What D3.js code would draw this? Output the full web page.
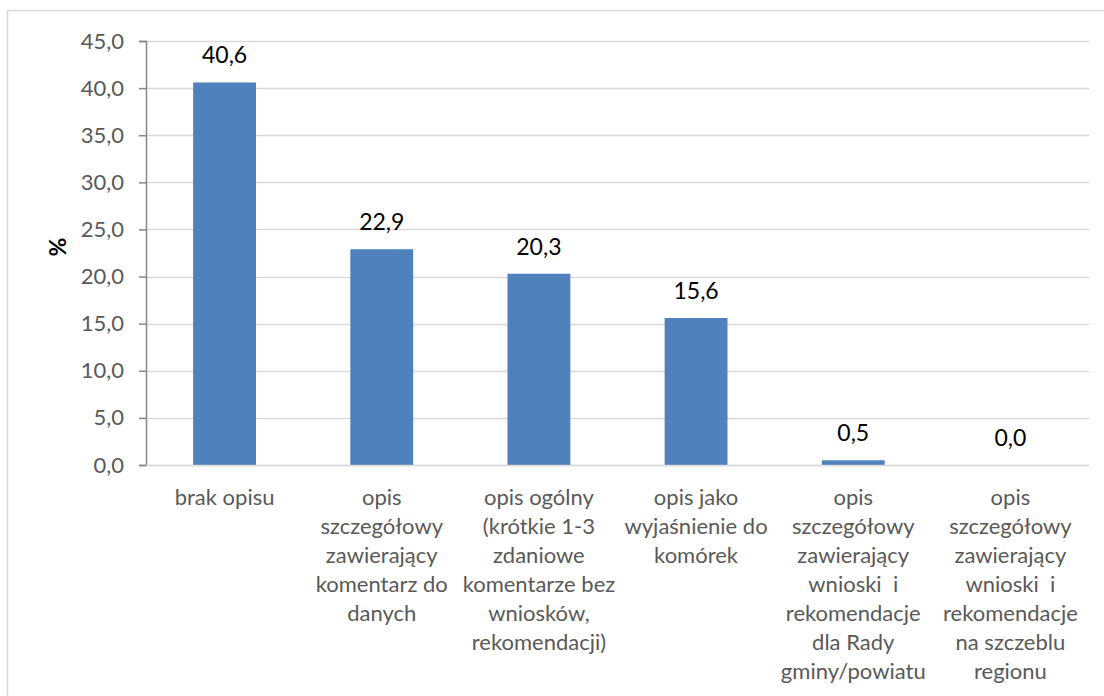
<!DOCTYPE html>
<html>
<head>
<meta charset="utf-8">
<script src="https://cdn.jsdelivr.net/npm/d3@7"></script>
<style>
  html, body { margin: 0; padding: 0; background: #fff; }
  svg { display: block; }
</style>
</head>
<body>
<svg id="chart" width="1104" height="696"></svg>
<script>
const categories = [
  ["brak opisu"],
  ["opis", "szczegółowy", "zawierający", "komentarz do", "danych"],
  ["opis ogólny", "(krótkie 1-3", "zdaniowe", "komentarze bez", "wniosków,", "rekomendacji)"],
  ["opis jako", "wyjaśnienie do", "komórek"],
  ["opis", "szczegółowy", "zawierający", "wnioski  i", "rekomendacje", "dla Rady", "gminy/powiatu"],
  ["opis", "szczegółowy", "zawierający", "wnioski  i", "rekomendacje", "na szczeblu", "regionu"]
];
const values = [40.6, 22.9, 20.3, 15.6, 0.5, 0.0];
const yTicks = [0, 5, 10, 15, 20, 25, 30, 35, 40, 45];
const yTitle = "%";

const svg = d3.select("#chart");
const font = "Lato, 'Open Sans', sans-serif";

// outer border (chart area, cropped at right/bottom)
svg.append("rect").attr("x", 7.5).attr("y", 10.5).attr("width", 1110).attr("height", 700)
  .attr("fill", "none").attr("stroke", "#d9d9d9").attr("stroke-width", 1.5);

const pLeft = 146, pRight = 1089, pTop = 41, pBottom = 465;
const x = d3.scaleBand().domain(d3.range(categories.length)).range([pLeft, pRight]).padding(0);
const y = d3.scaleLinear().domain([0, 45]).range([pBottom, pTop]);

const fmt = v => d3.format(".1f")(v).replace(".", ",");

// gridlines
svg.append("g").selectAll("line").data(yTicks).join("line")
  .attr("x1", pLeft).attr("x2", pRight)
  .attr("y1", d => Math.round(y(d)) + 0.5).attr("y2", d => Math.round(y(d)) + 0.5)
  .attr("stroke", "#d9d9d9").attr("stroke-width", 1.5);

// bars
const bw = x.bandwidth() * 0.4;
svg.append("g").selectAll("rect").data(values).join("rect")
  .attr("x", (d, i) => x(i) + (x.bandwidth() - bw) / 2)
  .attr("width", bw)
  .attr("y", d => y(d))
  .attr("height", d => y(0) - y(d))
  .attr("fill", "#4F81BD");

// y axis
const yAxis = d3.axisLeft(y).tickValues(yTicks).tickFormat(fmt).tickSize(7).tickPadding(15);
const ga = svg.append("g").attr("transform", `translate(${pLeft},0)`).call(yAxis);
ga.select(".domain").attr("stroke", "#868686").attr("stroke-width", 1.5);
ga.selectAll(".tick line").attr("stroke", "#868686").attr("stroke-width", 1.5);
ga.selectAll(".tick text").attr("fill", "#595959").style("font-family", font).style("font-size", "22px");

// x axis baseline
svg.append("line").attr("x1", pLeft).attr("x2", pRight)
  .attr("y1", Math.round(y(0)) + 0.5).attr("y2", Math.round(y(0)) + 0.5)
  .attr("stroke", "#d9d9d9").attr("stroke-width", 1.5);

// data labels
svg.append("g").selectAll("text").data(values).join("text")
  .attr("x", (d, i) => x(i) + x.bandwidth() / 2)
  .attr("y", d => y(d) - 19)
  .attr("text-anchor", "middle")
  .attr("fill", "#000")
  .style("font-family", font).style("font-size", "23px")
  .text(d => fmt(d));

// category labels
const cg = svg.append("g").selectAll("text").data(categories).join("text")
  .attr("text-anchor", "middle")
  .attr("fill", "#595959")
  .style("font-family", font).style("font-size", "22px");
cg.selectAll("tspan").data((d, i) => d.map(t => ({ t, i }))).join("tspan")
  .attr("x", d => x(d.i) + x.bandwidth() / 2)
  .attr("y", (d, j) => 505 + j * 29)
  .attr("xml:space", "preserve")
  .style("white-space", "pre")
  .text(d => d.t);

// y title
svg.append("text")
  .attr("transform", `translate(66,${(pTop + pBottom) / 2 - 6}) rotate(-90)`)
  .attr("text-anchor", "middle")
  .attr("fill", "#000").style("font-weight", "bold")
  .style("font-family", font).style("font-size", "23px")
  .text(yTitle);
</script>
</body>
</html>
